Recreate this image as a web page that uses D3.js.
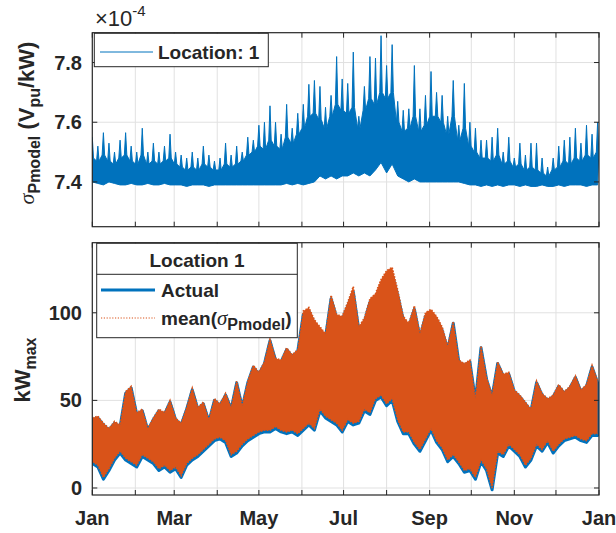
<!DOCTYPE html>
<html>
<head>
<meta charset="utf-8">
<script src="https://cdn.jsdelivr.net/npm/d3@7"></script>
<style>
  body { margin: 0; background: #fff; }
  svg text { font-family: "Liberation Sans", Arial, sans-serif; font-weight: bold; fill: #262626; }
</style>
</head>
<body>
<svg id="chart"></svg>
<script>
const WIDTH = 616;
const HEIGHT = 533;
const X_LEFT = 92.3;
const X_RIGHT = 599;

// samples every 4 days starting Jan 1
const SAMPLE_STEP = 4;
const yearStart = new Date(2019, 0, 1);
const yearEnd = new Date(2020, 0, 1);

const monthLabels = ['Jan', 'Mar', 'May', 'Jul', 'Sep', 'Nov', 'Jan'];
const sigmaTicks = [7.4, 7.6, 7.8];
const kwTicks = [0, 50, 100];

// top panel: sigma_Pmodel (x1e-4), peak / dense top / bottom per sample
const sigmaHi = [7.55, 7.52, 7.565, 7.53, 7.50, 7.54, 7.565, 7.52, 7.50, 7.58, 7.50, 7.53, 7.50, 7.52, 7.56, 7.50,
  7.49, 7.48, 7.50, 7.48, 7.52, 7.49, 7.47, 7.48, 7.53, 7.49, 7.52, 7.50, 7.55, 7.54, 7.59,
  7.60, 7.655, 7.60, 7.56, 7.66, 7.58, 7.63, 7.66, 7.727, 7.74, 7.72, 7.65, 7.69, 7.82, 7.745, 7.73,
  7.835, 7.62, 7.72, 7.82, 7.815, 7.89, 7.79, 7.86, 7.67, 7.64, 7.645, 7.79, 7.645, 7.69, 7.77,
  7.70, 7.69, 7.62, 7.74, 7.59, 7.73, 7.60, 7.58, 7.54, 7.54, 7.55, 7.58, 7.50, 7.55, 7.48,
  7.53, 7.49, 7.53, 7.53, 7.48, 7.45, 7.48, 7.52, 7.54, 7.55, 7.58, 7.53, 7.59, 7.56, 7.60];
const sigmaCore = [7.48, 7.47, 7.49, 7.47, 7.46, 7.48, 7.49, 7.47, 7.46, 7.49, 7.46, 7.47, 7.46, 7.47, 7.48,
  7.46, 7.45, 7.44, 7.45, 7.44, 7.46, 7.45, 7.44, 7.44, 7.46, 7.45, 7.46, 7.47, 7.49, 7.50, 7.52,
  7.51, 7.54, 7.52, 7.51, 7.55, 7.53, 7.56, 7.58, 7.62, 7.63, 7.61, 7.58, 7.62, 7.66, 7.64, 7.63,
  7.65, 7.58, 7.64, 7.68, 7.66, 7.70, 7.68, 7.70, 7.60, 7.57, 7.58, 7.62, 7.57, 7.59, 7.62,
  7.62, 7.60, 7.56, 7.62, 7.54, 7.58, 7.52, 7.50, 7.48, 7.48, 7.47, 7.49, 7.46, 7.47, 7.45,
  7.46, 7.44, 7.45, 7.44, 7.43, 7.42, 7.44, 7.45, 7.47, 7.46, 7.48, 7.47, 7.49, 7.48, 7.50];
const sigmaLo = [7.40, 7.395, 7.39, 7.40, 7.395, 7.39, 7.39, 7.395, 7.39, 7.39, 7.395, 7.39, 7.39, 7.395, 7.39,
  7.39, 7.39, 7.385, 7.39, 7.39, 7.39, 7.385, 7.39, 7.39, 7.39, 7.39, 7.39, 7.39, 7.39, 7.39, 7.39,
  7.39, 7.39, 7.39, 7.39, 7.395, 7.39, 7.395, 7.39, 7.395, 7.40,
  7.42, 7.41, 7.42, 7.41, 7.42, 7.42, 7.43, 7.42, 7.43, 7.42, 7.44,
  7.465, 7.43, 7.46, 7.42, 7.41, 7.40, 7.41, 7.40, 7.40, 7.40,
  7.40, 7.40, 7.40, 7.40, 7.40, 7.395, 7.39, 7.39, 7.385, 7.39, 7.385, 7.39, 7.385, 7.39, 7.39,
  7.385, 7.39, 7.385, 7.385, 7.39, 7.385, 7.385, 7.39, 7.385, 7.39, 7.39, 7.39, 7.385, 7.39, 7.39];

// bottom panel: kW max, actual and mean(sigma_Pmodel), top / bottom per sample
const actualHi = [39, 40, 36, 33, 37, 35, 54, 57, 42, 44, 33, 39, 44, 42, 49, 39, 36, 45, 56, 45, 48, 38,
  50, 47, 53, 45, 60, 46, 60, 69, 65,
  71, 84, 73, 72, 79, 75, 78, 99, 101, 94, 90, 86, 108, 97, 96, 104, 112, 90, 95, 106, 108,
  116, 120, 122, 110, 96, 92, 102, 86, 98, 100,
  96, 90, 79, 94, 72, 70, 72, 50, 80, 62, 52, 71, 64, 65, 55, 52, 48, 44, 60, 53, 50, 52,
  58, 54, 57, 63, 55, 58, 69, 60];
const actualLo = [14, 12, 5, 10, 16, 20, 16, 14, 12, 18, 16, 14, 10, 12, 9, 11, 6, 13, 16, 18, 21, 24,
  27, 28, 26, 18, 20, 24, 27, 29, 31,
  32, 32, 34, 32, 31, 32, 30, 33, 36, 33, 44, 40, 38, 36, 32, 38, 36, 37, 44, 42, 50,
  52, 47, 50, 38, 31, 31, 25, 21, 27, 33,
  26, 22, 15, 18, 14, 9, 10, 5, 15, 10, -1, 20, 18, 24, 21, 18, 12, 16, 24, 21, 26, 20,
  24, 27, 28, 29, 27, 26, 30, 30];
const meanHi = [40, 41, 37, 34, 38, 36, 55, 58, 43, 45, 34, 40, 45, 43, 50, 40, 37, 46, 57, 46, 49, 39,
  51, 48, 54, 46, 61, 47, 61, 70, 66,
  72, 85, 74, 73, 80, 76, 79, 101, 103, 96, 92, 88, 110, 99, 98, 106, 115, 92, 97, 108, 111,
  119, 124, 126, 113, 98, 94, 104, 88, 100, 102,
  98, 92, 81, 95, 73, 71, 73, 51, 81, 63, 53, 72, 65, 66, 56, 53, 49, 45, 61, 54, 51, 53,
  59, 55, 58, 64, 56, 59, 70, 61];
const meanLo = [15, 13, 6, 11, 17, 21, 17, 15, 13, 19, 17, 15, 11, 13, 10, 12, 7, 14, 17, 19, 22, 25,
  28, 29, 27, 19, 21, 25, 28, 30, 32,
  33, 33, 35, 33, 32, 33, 31, 34, 37, 34, 45, 41, 39, 37, 33, 39, 37, 38, 45, 43, 51,
  53, 48, 51, 39, 32, 32, 26, 22, 28, 34,
  27, 23, 16, 19, 15, 10, 11, 6, 16, 11, 0, 21, 19, 25, 22, 19, 13, 17, 25, 22, 27, 21,
  25, 28, 29, 30, 28, 27, 31, 31];

const BLUE = '#0072BD';
const ORANGE = '#D95319';
const AXIS = '#262626';
const GRID = '#e1e1e1';

const svg = d3.select('#chart').attr('width', WIDTH).attr('height', HEIGHT);

const x = d3.scaleTime().domain([yearStart, yearEnd]).range([X_LEFT, X_RIGHT]);
const sampleDate = i => d3.timeDay.offset(yearStart, i * SAMPLE_STEP);
const months = d3.timeMonth.range(yearStart, d3.timeDay.offset(yearEnd, 1));

function drawFrame(g, y, ticks, id) {
    let [yb, yt] = y.range();
    g.selectAll('.vgrid').data(months.slice(1, -1)).enter().append('line')
        .attr('x1', d => x(d)).attr('x2', d => x(d))
        .attr('y1', yt).attr('y2', yb)
        .attr('stroke', GRID).attr('stroke-width', 1);
    g.selectAll('.hgrid').data(ticks).enter().append('line')
        .attr('x1', X_LEFT).attr('x2', X_RIGHT)
        .attr('y1', d => y(d)).attr('y2', d => y(d))
        .attr('stroke', GRID).attr('stroke-width', 1);

    svg.append('clipPath').attr('id', id)
        .append('rect').attr('x', X_LEFT).attr('y', yt)
        .attr('width', X_RIGHT - X_LEFT).attr('height', yb - yt);
}

function drawAxes(g, y, ticks, withXLabels) {
    let [yb, yt] = y.range();
    let tk = 5;
    g.selectAll('.xtb').data(months).enter().append('line')
        .attr('x1', d => x(d)).attr('x2', d => x(d))
        .attr('y1', yb).attr('y2', yb - tk).attr('stroke', AXIS);
    g.selectAll('.xtt').data(months).enter().append('line')
        .attr('x1', d => x(d)).attr('x2', d => x(d))
        .attr('y1', yt).attr('y2', yt + tk).attr('stroke', AXIS);
    g.selectAll('.ytl').data(ticks).enter().append('line')
        .attr('x1', X_LEFT).attr('x2', X_LEFT + tk)
        .attr('y1', d => y(d)).attr('y2', d => y(d)).attr('stroke', AXIS);
    g.selectAll('.ytr').data(ticks).enter().append('line')
        .attr('x1', X_RIGHT).attr('x2', X_RIGHT - tk)
        .attr('y1', d => y(d)).attr('y2', d => y(d)).attr('stroke', AXIS);
    g.append('rect').attr('x', X_LEFT).attr('y', yt)
        .attr('width', X_RIGHT - X_LEFT).attr('height', yb - yt)
        .attr('fill', 'none').attr('stroke', AXIS).attr('stroke-width', 1.2);
    g.selectAll('.ylab').data(ticks).enter().append('text')
        .attr('x', 82).attr('y', d => y(d) + 7)
        .attr('text-anchor', 'end').attr('font-size', 20)
        .text(d => d3.format('~g')(d));
    if (withXLabels) {
        g.selectAll('.xlab').data(months.filter((d, i) => i % 2 === 0)).enter().append('text')
            .attr('x', d => x(d)).attr('y', 525)
            .attr('text-anchor', 'middle').attr('font-size', 20)
            .text((d, i) => monthLabels[i]);
    }
}

// ---------- top panel ----------
const yTop = d3.scaleLinear().domain([7.25, 7.9]).range([226.7, 32.7]);
const gTop = svg.append('g');
drawFrame(gTop, yTop, sigmaTicks, 'clipTop');

const topPlot = gTop.append('g').attr('clip-path', 'url(#clipTop)');
// dense band with narrow peaks: each sample peak sits on the dense top level
const halfPeak = 0.9; // days
let topEdge = [];
sigmaHi.forEach((v, i) => {
    let t = sampleDate(i);
    topEdge.push([x(d3.timeHour.offset(t, -halfPeak * 24)), yTop(sigmaCore[i])]);
    topEdge.push([x(t), yTop(v)]);
    topEdge.push([x(d3.timeHour.offset(t, halfPeak * 24)), yTop(sigmaCore[i])]);
});
let bottomEdge = sigmaLo.map((v, i) => [x(sampleDate(i)), yTop(v)]).reverse();
topPlot.append('path')
    .attr('d', d3.line()(topEdge.concat(bottomEdge)) + 'Z')
    .attr('fill', BLUE).attr('stroke', BLUE).attr('stroke-width', 1)
    .attr('stroke-linejoin', 'miter');

drawAxes(gTop, yTop, sigmaTicks, false);

// exponent
const expText = svg.append('text').attr('x', 95).attr('y', 26);
expText.append('tspan').attr('font-size', 22).attr('font-weight', 'normal').text('\u00d710');
expText.append('tspan').attr('font-size', 15).attr('font-weight', 'normal').attr('dy', -10).text('-4');

// top legend
const legTop = svg.append('g');
legTop.append('rect').attr('x', 94.3).attr('y', 33.3).attr('width', 174).attr('height', 33.4)
    .attr('fill', '#fff').attr('stroke', AXIS).attr('stroke-width', 1);
legTop.append('line').attr('x1', 100).attr('x2', 153).attr('y1', 52).attr('y2', 52)
    .attr('stroke', BLUE).attr('stroke-width', 1);
legTop.append('text').attr('x', 158).attr('y', 59).attr('font-size', 19).text('Location: 1');

// top y label
const ylTop = svg.append('text')
    .attr('transform', 'translate(34,123) rotate(-90)')
    .attr('text-anchor', 'middle').attr('font-size', 22);
ylTop.append('tspan').attr('font-family', '"Liberation Serif", serif').attr('font-style', 'italic')
    .attr('font-weight', 'normal').text('\u03c3');
ylTop.append('tspan').attr('font-size', 16).attr('dy', 6).text('Pmodel');
ylTop.append('tspan').attr('dy', -6).text(' (V');
ylTop.append('tspan').attr('font-size', 16).attr('dy', 6).text('pu');
ylTop.append('tspan').attr('dy', -6).text('/kW)');

// ---------- bottom panel ----------
const yBot = d3.scaleLinear().domain([-4, 140]).range([495, 242.7]);
const gBot = svg.append('g');
drawFrame(gBot, yBot, kwTicks, 'clipBot');

const botPlot = gBot.append('g').attr('clip-path', 'url(#clipBot)');
const bandArea = (hi) => d3.area()
    .x((d, i) => x(sampleDate(i)))
    .y0(d => yBot(d))
    .y1((d, i) => yBot(hi[i]));
const edgeLine = d3.line().x((d, i) => x(sampleDate(i))).y(d => yBot(d));

botPlot.append('path').datum(actualLo).attr('d', bandArea(actualHi))
    .attr('fill', BLUE).attr('stroke', BLUE).attr('stroke-width', 3)
    .attr('stroke-linejoin', 'round');
botPlot.append('path').datum(meanLo).attr('d', bandArea(meanHi))
    .attr('fill', ORANGE);
[meanHi, meanLo].forEach(s => {
    botPlot.append('path').datum(s).attr('d', edgeLine)
        .attr('fill', 'none').attr('stroke', ORANGE).attr('stroke-width', 1.6)
        .attr('stroke-dasharray', '1.5,1.5');
});

drawAxes(gBot, yBot, kwTicks, true);

// bottom legend
const legBot = svg.append('g');
legBot.append('rect').attr('x', 96.7).attr('y', 243.3).attr('width', 200.6).attr('height', 94.4)
    .attr('fill', '#fff').attr('stroke', AXIS).attr('stroke-width', 1);
legBot.append('line').attr('x1', 96.7).attr('x2', 297.3).attr('y1', 274.3).attr('y2', 274.3)
    .attr('stroke', AXIS).attr('stroke-width', 1);
legBot.append('text').attr('x', 197).attr('y', 267).attr('text-anchor', 'middle')
    .attr('font-size', 19).text('Location 1');
legBot.append('line').attr('x1', 101).attr('x2', 155).attr('y1', 290).attr('y2', 290)
    .attr('stroke', BLUE).attr('stroke-width', 2.8);
legBot.append('text').attr('x', 161).attr('y', 297).attr('font-size', 19).text('Actual');
legBot.append('line').attr('x1', 101).attr('x2', 155).attr('y1', 318).attr('y2', 318)
    .attr('stroke', ORANGE).attr('stroke-width', 1.2).attr('stroke-dasharray', '1.2,1.6');
const meanText = legBot.append('text').attr('x', 161).attr('y', 325).attr('font-size', 19);
meanText.append('tspan').text('mean(');
meanText.append('tspan').attr('font-family', '"Liberation Serif", serif').attr('font-style', 'italic')
    .attr('font-weight', 'normal').attr('font-size', 21).text('\u03c3');
meanText.append('tspan').attr('font-size', 16).attr('dy', 5).text('Pmodel');
meanText.append('tspan').attr('dy', -5).text(')');

// bottom y label
const ylBot = svg.append('text')
    .attr('transform', 'translate(30,370) rotate(-90)')
    .attr('text-anchor', 'middle').attr('font-size', 22);
ylBot.append('tspan').text('kW');
ylBot.append('tspan').attr('font-size', 16).attr('dy', 6).text('max');
</script>
</body>
</html>
